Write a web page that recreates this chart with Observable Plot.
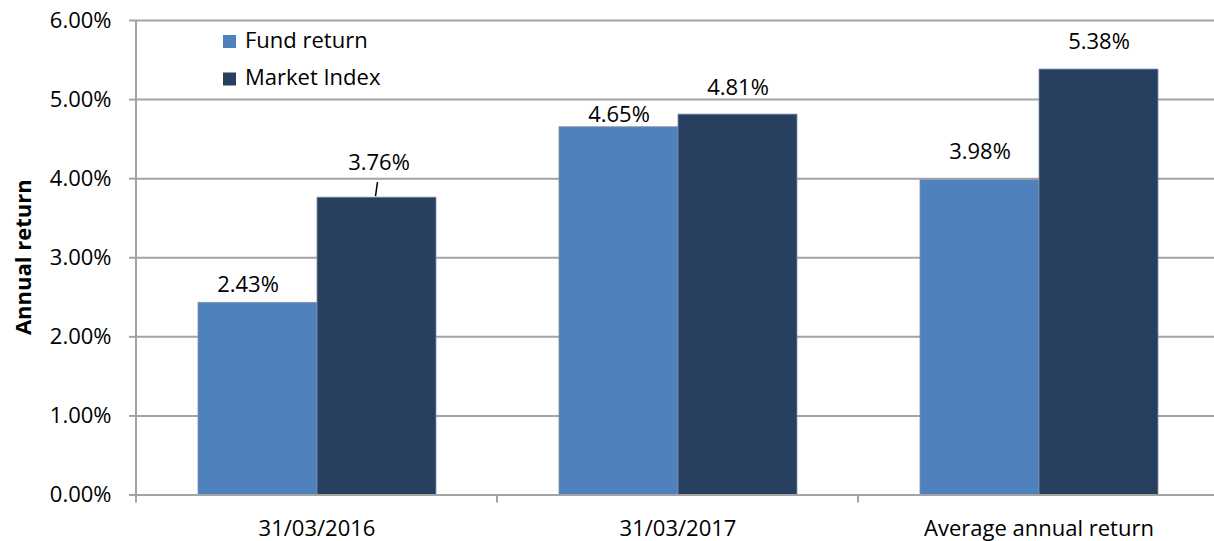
<!DOCTYPE html>
<html><head><meta charset="utf-8">
<script src="https://cdn.jsdelivr.net/npm/d3@7"></script>
<script src="https://cdn.jsdelivr.net/npm/@observablehq/plot@0.6"></script>
<style>body{margin:0;background:#fff;}</style>
</head><body><div id="chart"></div>
<script>
const categories = ["31/03/2016", "31/03/2017", "Average annual return"];
const series = ["Fund return", "Market Index"];
const fundReturn = [2.43, 4.65, 3.98];
const marketIndex = [3.76, 4.81, 5.38];
const yTicks = [0, 1, 2, 3, 4, 5, 6];
const colors = ["#4F81BD", "#27405F"];
const yTitle = "Annual return";

const data = categories.flatMap((c, i) => [
  {category: c, series: series[0], value: fundReturn[i]},
  {category: c, series: series[1], value: marketIndex[i]}
]);
const fmt = v => v.toFixed(2) + "%";

// label nudges in px: [dx, lift above bar top], in data order
const nudge = [[-10, 18], [2, 34.6], [0, 12.7], [0, 27], [0, 28.6], [0, 27.6]];
const gridColor = "#a3a3a3";
const FONT = "'Open Sans', sans-serif";

const labels = data.map((d, i) => Plot.text([d], {
  fx: "category", x: "series", y: "value", text: d => fmt(d.value),
  dx: nudge[i][0], dy: -nudge[i][1], lineAnchor: "middle",
  fontSize: 22, fill: "#000"
}));

const plot = Plot.plot({
  width: 1214, height: 541,
  marginTop: 20, marginBottom: 46.5, marginLeft: 135, marginRight: -5.5,
  style: {fontFamily: FONT, fontSize: "22px", color: "#000", background: "#fff"},
  fx: {domain: categories, padding: 0, label: null},
  x: {domain: series, paddingInner: 0, paddingOuter: 0.505, axis: null},
  y: {domain: [0, 6], label: null},
  color: {domain: series, range: colors},
  marks: [
    Plot.gridY(yTicks, {stroke: gridColor, strokeOpacity: 1, strokeWidth: 2}),
    Plot.barY(data, {fx: "category", x: "series", y: "value", fill: "series", stroke: "#7d90aa", strokeWidth: 0.8}),
    Plot.ruleY([0], {stroke: gridColor, strokeWidth: 2}),
    Plot.axisY(yTicks, {tickSize: 7, tickPadding: 18, tickFormat: fmt, stroke: gridColor, strokeWidth: 2, fontSize: 22, label: null}),
    Plot.axisFx({anchor: "bottom", tickSize: 0, tickPadding: 25, fontSize: 22, label: null}),
    ...labels
  ]
});

const svg = d3.select(plot);
const fx = plot.scale("fx"), xs = plot.scale("x"), ys = plot.scale("y");
const y0 = ys.apply(0), y6 = ys.apply(6);
const left = fx.apply(categories[0]);
// y-axis line
svg.append("line").attr("x1", left).attr("x2", left).attr("y1", y6).attr("y2", y0)
  .attr("stroke", gridColor).attr("stroke-width", 2);
// category boundary ticks
const bounds = categories.map(c => fx.apply(c)).concat([fx.apply(categories[categories.length - 1]) + fx.bandwidth]);
bounds.forEach(b => svg.append("line").attr("x1", b).attr("x2", b).attr("y1", y0).attr("y2", y0 + 8)
  .attr("stroke", gridColor).attr("stroke-width", 2));
// leader line for 3.76% (inner x scale already includes the left margin)
const lx = xs.apply(series[1]) + xs.bandwidth / 2 + (fx.apply(categories[0]) - left);
const ly = ys.apply(marketIndex[0]);
svg.append("line").attr("x1", lx + 2).attr("x2", lx).attr("y1", ly - 15).attr("y2", ly - 1)
  .attr("stroke", "#000").attr("stroke-width", 1.5);
// y title
svg.append("text").attr("transform", `translate(25,${(y0 + y6) / 2}) rotate(-90)`)
  .attr("text-anchor", "middle").attr("dominant-baseline", "middle")
  .attr("font-family", FONT).attr("font-weight", "bold").attr("font-size", 22).attr("fill", "#000")
  .text(yTitle);
// legend
const lg = svg.append("g");
series.forEach((s, i) => {
  lg.append("rect").attr("x", 223).attr("y", 35 + i * 37.5).attr("width", 13).attr("height", 13)
    .attr("fill", plot.scale("color").apply(s));
  lg.append("text").attr("x", 245).attr("y", 42 + i * 37.5).attr("dominant-baseline", "middle")
    .attr("text-anchor", "start")
    .attr("font-family", FONT).attr("font-size", 22).attr("fill", "#000").text(s);
});
document.getElementById("chart").appendChild(plot);
</script>
</body></html>
